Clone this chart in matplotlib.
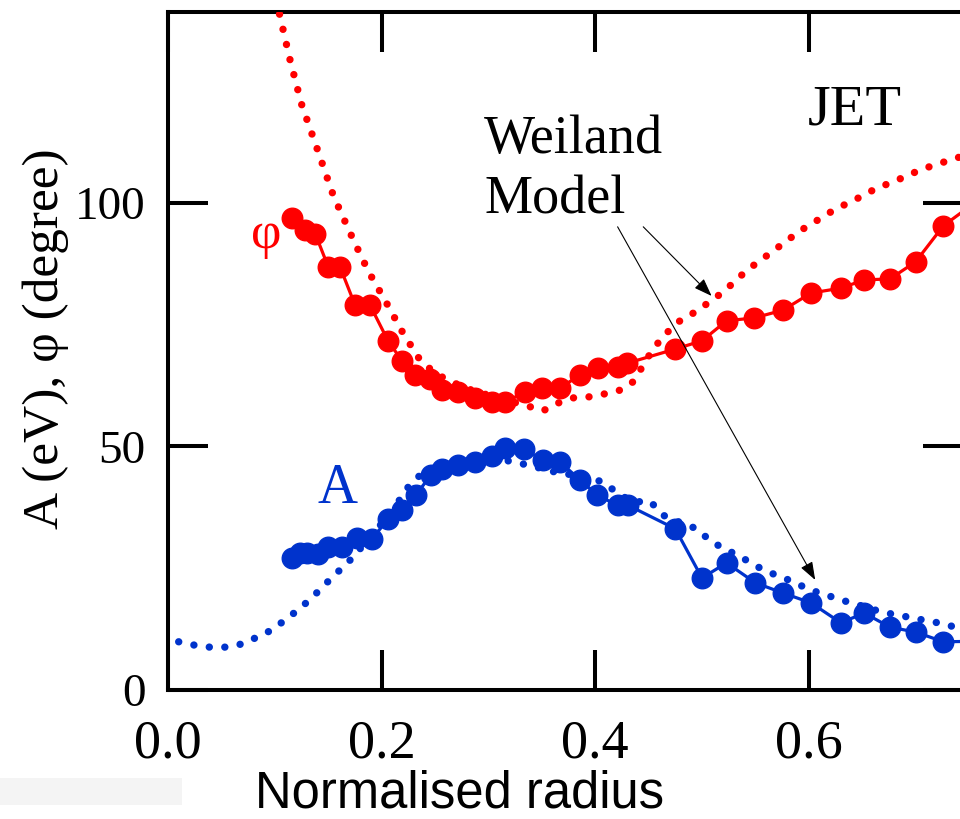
import matplotlib
matplotlib.use("Agg")
import matplotlib.pyplot as plt
from matplotlib.patches import Rectangle

# ---- data ----
phi_x = [0.116, 0.128, 0.138, 0.150, 0.161, 0.175, 0.189, 0.206, 0.219, 0.231, 0.245,
         0.257, 0.272, 0.287, 0.303, 0.316, 0.334, 0.350, 0.367, 0.386, 0.403, 0.421,
         0.430, 0.475, 0.500, 0.523, 0.549, 0.576, 0.602, 0.630, 0.652, 0.676, 0.700,
         0.726, 0.752]
phi_y = [96.9, 94.5, 93.6, 86.9, 86.9, 79.1, 79.1, 71.7, 67.6, 64.7, 63.9,
         61.6, 61.2, 60.0, 59.1, 59.1, 61.2, 62.0, 62.0, 64.7, 66.1, 66.3,
         67.1, 70.0, 71.7, 75.8, 76.4, 78.0, 81.5, 82.5, 84.2, 84.4, 87.9,
         95.3, 99.5]

A_x = [0.116, 0.124, 0.130, 0.140, 0.150, 0.163, 0.177, 0.191, 0.206, 0.219, 0.232,
       0.246, 0.257, 0.272, 0.287, 0.303, 0.316, 0.333, 0.351, 0.367, 0.386, 0.402,
       0.421, 0.431, 0.475, 0.500, 0.523, 0.550, 0.576, 0.602, 0.630, 0.652, 0.676,
       0.700, 0.726, 0.755]
A_y = [27.1, 28.1, 28.1, 27.9, 29.4, 29.4, 31.2, 31.0, 35.1, 36.9, 40.0,
       44.1, 45.4, 46.2, 46.8, 48.0, 49.7, 49.5, 47.2, 46.8, 43.1, 40.0,
       37.9, 37.9, 33.1, 23.0, 26.1, 22.0, 19.9, 17.9, 13.8, 15.8, 12.9,
       11.9, 9.9, 10.0]

phi_model_x = [0.100, 0.114, 0.125, 0.140, 0.155, 0.174, 0.188, 0.204, 0.220, 0.237, 0.252,
               0.266, 0.285, 0.305, 0.320, 0.337, 0.351, 0.365, 0.380, 0.395, 0.409, 0.424,
               0.435, 0.444, 0.453, 0.464, 0.478, 0.492, 0.506, 0.521, 0.535, 0.549, 0.564,
               0.578, 0.592, 0.607, 0.621, 0.635, 0.650, 0.664, 0.679, 0.693, 0.707, 0.721,
               0.735, 0.750]
phi_model_y = [143.0, 129.6, 120.3, 110.9, 101.4, 92.2, 85.8, 79.7, 73.3, 67.4, 64.8,
               63.2, 61.5, 60.2, 59.3, 58.3, 57.3, 58.9, 60.0, 60.2, 60.8, 61.6,
               63.2, 66.3, 69.6, 72.7, 75.6, 77.4, 79.5, 81.9, 84.8, 87.3, 89.7,
               92.0, 94.3, 96.3, 98.2, 99.8, 101.4, 103.1, 104.3, 105.7, 107.0, 108.0,
               109.0, 110.0]

A_model_x = [0.010, 0.025, 0.039, 0.054, 0.068, 0.082, 0.097, 0.111, 0.125, 0.140, 0.154,
             0.169, 0.190, 0.210, 0.225, 0.236, 0.255, 0.275, 0.295, 0.310, 0.323, 0.337,
             0.365, 0.394, 0.409, 0.423, 0.437, 0.451, 0.466, 0.481, 0.495, 0.509, 0.524,
             0.538, 0.552, 0.567, 0.581, 0.596, 0.610, 0.625, 0.639, 0.654, 0.668, 0.683,
             0.697, 0.711, 0.726, 0.740, 0.750]
A_model_y = [9.9, 9.2, 8.8, 8.8, 9.4, 10.7, 12.3, 14.6, 17.0, 20.1, 23.2,
             26.3, 31.5, 36.8, 41.7, 44.1, 46.0, 47.2, 47.8, 47.5, 46.8, 46.2,
             44.6, 43.7, 42.5, 40.0, 38.6, 38.8, 35.5, 34.3, 33.1, 30.4, 28.7,
             27.1, 25.3, 23.8, 22.6, 21.1, 19.9, 18.9, 17.9, 17.0, 16.0, 15.4,
             14.8, 14.2, 13.6, 12.7, 12.3]

x_ticks = [0.0, 0.2, 0.4, 0.6]
x_ticklabels = ["0.0", "0.2", "0.4", "0.6"]
y_ticks = [0, 50, 100]
y_ticklabels = ["0", "50", "100"]

RED = "#ff0000"
BLUE = "#0033cc"
SERIF = "Liberation Serif"
SANS = "Liberation Sans"

fig = plt.figure(figsize=(9.6, 8.19), dpi=100)
ax = fig.add_axes([168 / 960, 1 - 690 / 819, (963 - 168) / 960, (690 - 12) / 819])
ax.set_xlim(0, 0.7444)
ax.set_ylim(0, 139.2)

# measured data
ax.plot(phi_x, phi_y, "-o", color=RED, lw=2.3, ms=14.8, zorder=3)
ax.plot(A_x, A_y, "-o", color=BLUE, lw=2.3, ms=14.8, zorder=3)

# model (dotted)
dots = (0, (0.01, 2.1))
ax.plot(phi_model_x, phi_model_y, color=RED, lw=5.3, ls=dots,
        dash_capstyle="round", zorder=4)
ax.plot(A_model_x, A_model_y, color=BLUE, lw=5.3, ls=dots,
        dash_capstyle="round", zorder=4)

# axes styling
for s in ax.spines.values():
    s.set_linewidth(2.9)
ax.set_xticks(x_ticks)
ax.set_xticklabels(x_ticklabels, fontfamily=SERIF, fontsize=39)
ax.set_yticks(y_ticks)
ax.set_yticklabels(y_ticklabels, fontfamily=SERIF, fontsize=34)
ax.tick_params(direction="in", length=29, width=2.9, top=True, right=True)
ax.tick_params(axis="x", pad=21)
ax.tick_params(axis="y", pad=16)

# texts
ax.text(0.599, 116.0, "JET", fontfamily=SERIF, fontsize=42, ha="left", va="baseline")
ax.text(0.296, 110.3, "Weiland", fontfamily=SERIF, fontsize=39, ha="left", va="baseline")
ax.text(0.296, 97.9, "Model", fontfamily=SERIF, fontsize=39, ha="left", va="baseline")
ax.text(0.0918, 93.4, "φ", fontfamily=SERIF, fontsize=38, color=RED, ha="center", va="center")
ax.text(0.1587, 38.4, "A", fontfamily=SERIF, fontsize=40, color=BLUE, ha="center", va="baseline")

arrow_kw = dict(arrowstyle="-|>,head_length=0.55,head_width=0.2", color="k", lw=0.8,
                shrinkA=0, shrinkB=0, mutation_scale=20)
ax.annotate("", xy=(0.606, 22.6), xytext=(0.421, 95.1), arrowprops=arrow_kw)
ax.annotate("", xy=(0.509, 80.9), xytext=(0.445, 95.1), arrowprops=arrow_kw)

fig.text(46 / 960, 1 - 339 / 819, "A (eV), φ (degree)", fontfamily=SERIF, fontsize=37,
         rotation=90, ha="center", va="center")
fig.text(460 / 960, 1 - 807 / 819, "Normalised radius", fontfamily=SANS, fontsize=36.5,
         ha="center", va="baseline")

fig.add_artist(Rectangle((0, 1 - 805 / 819), 182 / 960, 27 / 819, transform=fig.transFigure,
                         facecolor="#f4f4f4", edgecolor="none", zorder=0))

fig.savefig("out.png", dpi=100)
